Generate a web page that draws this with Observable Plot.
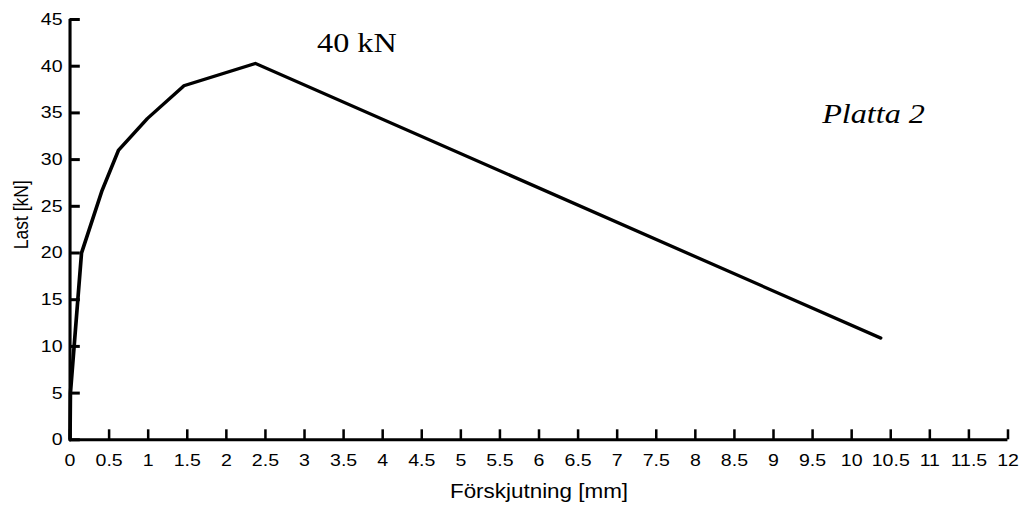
<!DOCTYPE html>
<html>
<head>
<meta charset="utf-8">
<script src="https://cdn.jsdelivr.net/npm/d3@7"></script>
<script src="https://cdn.jsdelivr.net/npm/@observablehq/plot@0.6"></script>
<style>
  html, body { margin: 0; padding: 0; background: #fff; overflow: hidden; }
</style>
</head>
<body>
<div id="chart"></div>
<script>
// ---- data ----
const displacement = [0, 0.005, 0.147, 0.41, 0.62, 0.99, 1.456, 2.37, 10.37]; // mm
const load         = [0, 5,     20.0,  26.7, 31.0, 34.4, 37.9,  40.3, 10.9];  // kN

const xTicks = [0, 0.5, 1, 1.5, 2, 2.5, 3, 3.5, 4, 4.5, 5, 5.5, 6, 6.5, 7, 7.5, 8, 8.5, 9, 9.5, 10, 10.5, 11, 11.5, 12];
const yTicks = [0, 5, 10, 15, 20, 25, 30, 35, 40, 45];

const xLabel = ["Förskjutning [mm]"];
const yLabel = ["Last [kN]"];

const peakNote  = ["40 kN"];
const peakNoteX = [3.67];
const peakNoteY = [42.5];

const plateNote  = ["Platta 2"];
const plateNoteX = [10.28];
const plateNoteY = [34.9];

// ---- build ----
const points = displacement.map((x, i) => ({x, y: load[i]}));
const peakData = peakNote.map((t, i) => ({t, x: peakNoteX[i], y: peakNoteY[i]}));
const plateData = plateNote.map((t, i) => ({t, x: plateNoteX[i], y: plateNoteY[i]}));

const SX = 1.15;               // horizontal stretch of the original picture
const W = 1028, H = 507;
const VW = Math.round(W / SX);
const mL = 60.4, mR = VW - 876.1, mT = 19, mB = 67.7;
const frameW = VW - mL - mR, frameH = H - mT - mB;
const sans = "Liberation Sans, Arial, sans-serif";
const serif = "Liberation Serif, Times New Roman, serif";
const fmt = d => String(d);

const chart = Plot.plot({
  width: VW,
  height: H,
  marginLeft: mL,
  marginRight: mR,
  marginTop: mT,
  marginBottom: mB,
  style: {background: "white", color: "black", overflow: "visible"},
  x: {domain: [0, 12]},
  y: {domain: [0, 45]},
  marks: [
    Plot.axisX({ticks: xTicks, tickFormat: fmt, anchor: "bottom", tickSize: 0, tickPadding: 14,
      fontSize: 17, fontFamily: sans, color: "black", label: null}),
    Plot.axisY({ticks: yTicks, tickFormat: fmt, anchor: "left", tickSize: 0, tickPadding: 6.5,
      fontSize: 17, fontFamily: sans, color: "black", label: null}),
    Plot.tickX(xTicks, {x: d => d, insetTop: frameH - 10, stroke: "black", strokeWidth: 2.2}),
    Plot.tickY(yTicks, {y: d => d, insetRight: frameW - 9, stroke: "black", strokeWidth: 3}),
    Plot.ruleY([0], {stroke: "black", strokeWidth: 3}),
    Plot.ruleX([0], {stroke: "black", strokeWidth: 2.7}),
    Plot.line(points, {x: "x", y: "y", stroke: "black", strokeWidth: 3.2, strokeLinejoin: "round"}),
    Plot.text(peakData, {x: "x", y: "y", text: "t", fontFamily: serif, fontSize: 28, fill: "black", lineAnchor: "middle"}),
    Plot.text(plateData, {x: "x", y: "y", text: "t", fontFamily: serif, fontSize: 28, fontStyle: "italic", fill: "black", lineAnchor: "middle"}),
    Plot.text(xLabel, {text: d => d, frameAnchor: "bottom", lineAnchor: "bottom", dy: 57.7,
      fontFamily: sans, fontSize: 19.5, fill: "black"}),
    Plot.text(yLabel, {text: d => d, frameAnchor: "left", textAnchor: "middle", rotate: -90, dx: -42, dy: -15,
      fontFamily: sans, fontSize: 17.5, fill: "black", lineAnchor: "middle"})
  ]
});

chart.setAttribute("viewBox", `0 0 ${VW} ${H}`);
chart.setAttribute("width", W);
chart.setAttribute("height", H);
chart.setAttribute("preserveAspectRatio", "none");
chart.style.width = W + "px";
chart.style.height = H + "px";
chart.style.maxWidth = "none";
chart.style.display = "block";
document.getElementById("chart").appendChild(chart);
</script>
</body>
</html>
